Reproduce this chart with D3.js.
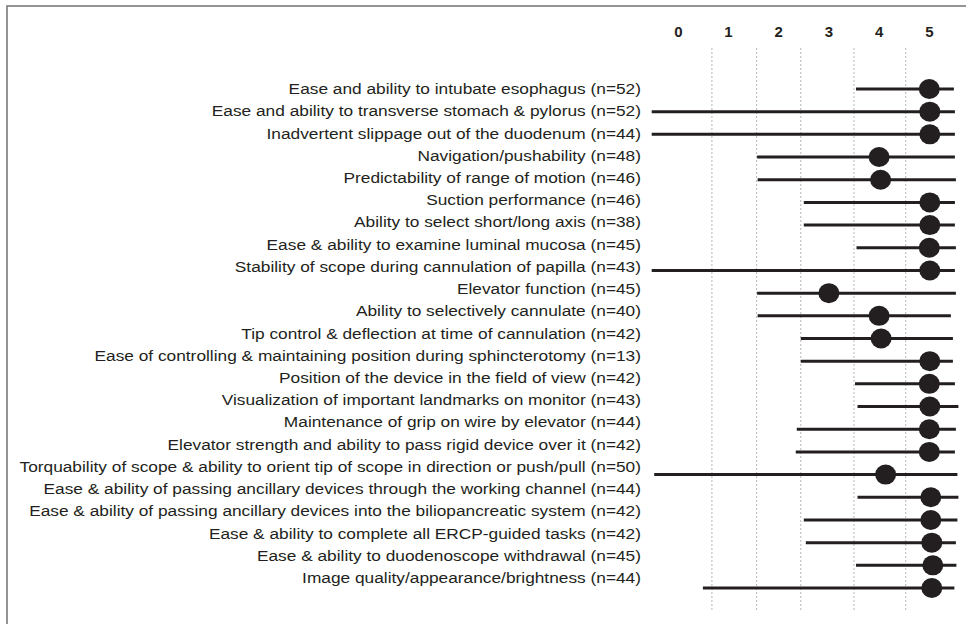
<!DOCTYPE html>
<html>
<head>
<meta charset="utf-8">
<script src="https://cdn.jsdelivr.net/npm/d3@7"></script>
<style>
  body { margin: 0; background: #fff; }
  #grafico { width: 966px; height: 624px; }
  text { font-family: Arial, Helvetica, "Liberation Sans", sans-serif; fill: #231f20; }
</style>
</head>
<body>
<div id="grafico"></div>
<script>
// items rated, top to bottom
var itens = [
  "Ease and ability to intubate esophagus (n=52)",
  "Ease and ability to transverse stomach & pylorus (n=52)",
  "Inadvertent slippage out of the duodenum (n=44)",
  "Navigation/pushability (n=48)",
  "Predictability of range of motion (n=46)",
  "Suction performance (n=46)",
  "Ability to select short/long axis (n=38)",
  "Ease & ability to examine luminal mucosa (n=45)",
  "Stability of scope during cannulation of papilla (n=43)",
  "Elevator function (n=45)",
  "Ability to selectively cannulate (n=40)",
  "Tip control & deflection at time of cannulation (n=42)",
  "Ease of controlling & maintaining position during sphincterotomy (n=13)",
  "Position of the device in the field of view (n=42)",
  "Visualization of important landmarks on monitor (n=43)",
  "Maintenance of grip on wire by elevator (n=44)",
  "Elevator strength and ability to pass rigid device over it (n=42)",
  "Torquability of scope & ability to orient tip of scope in direction or push/pull (n=50)",
  "Ease & ability of passing ancillary devices through the working channel (n=44)",
  "Ease & ability of passing ancillary devices into the biliopancreatic system (n=42)",
  "Ease & ability to complete all ERCP-guided tasks (n=42)",
  "Ease & ability to duodenoscope withdrawal (n=45)",
  "Image quality/appearance/brightness (n=44)"
];

// median score (dot)
var mediana = [5, 5.01, 5.01, 4, 4.03, 5.01, 5.01, 5, 5.01, 3, 4, 4.04,
               5.01, 5, 5.01, 5, 5, 4.13, 5.03, 5.03, 5.05, 5.07, 5.05];

// range bar ends
var minimo = [3.54, -0.53, -0.53, 1.57, 1.58, 2.5, 2.5, 3.55, -0.53, 1.57, 1.58, 2.44,
              2.44, 3.52, 3.57, 2.36, 2.34, -0.48, 3.57, 2.5, 2.54, 3.54, 0.49];
var maximo = [5.49, 5.51, 5.51, 5.51, 5.53, 5.51, 5.51, 5.53, 5.51, 5.53, 5.43, 5.47,
              5.47, 5.51, 5.58, 5.53, 5.51, 5.56, 5.58, 5.56, 5.53, 5.54, 5.5];

// score labels on top and the dotted separators
var ticks = [0, 1, 2, 3, 4, 5];
var separadores = [0.67, 1.56, 2.44, 3.5, 4.53];

var data = itens.map(function(d, i) {
  return { item: d, med: mediana[i], lo: minimo[i], hi: maximo[i] };
});

var svg = d3.select("#grafico").append("svg")
  .attr("width", 966)
  .attr("height", 624);

// frame (only top and left edges show)
svg.append("rect")
  .attr("x", 7)
  .attr("y", 6)
  .attr("width", 1000)
  .attr("height", 700)
  .style("fill", "none")
  .style("stroke", "#7a7a7a")
  .style("stroke-width", 1.6);

// scales
var x = d3.scaleLinear().domain([0, 5]).range([678.3, 929.3]);
var yTexto = d3.scalePoint().domain(itens).range([89, 578]);
var yMarca = d3.scalePoint().domain(itens).range([89, 588]);

// dotted separators
svg.append("g")
  .selectAll("line")
  .data(separadores)
  .enter().append("line")
  .attr("x1", function(d) { return x(d); })
  .attr("x2", function(d) { return x(d); })
  .attr("y1", 48)
  .attr("y2", 611)
  .style("stroke", "#b5b5b5")
  .style("stroke-width", 1)
  .style("stroke-dasharray", "2, 2");

// score labels
svg.append("g")
  .selectAll("text")
  .data(ticks)
  .enter().append("text")
  .attr("x", function(d) { return x(d); })
  .attr("y", 32)
  .attr("dy", "0.35em")
  .style("text-anchor", "middle")
  .style("font-weight", "bold")
  .style("font-size", "15px")
  .text(function(d) { return d; });

// item labels - the original type is a bit stretched sideways,
// so the group gets widened until the longest one spans x 19..641
var gRot = svg.append("g");
var rotulos = gRot.selectAll("text")
  .data(data)
  .enter().append("text")
  .attr("x", 0)
  .attr("y", function(d) { return yTexto(d.item); })
  .attr("dy", "0.35em")
  .style("text-anchor", "end")
  .style("font-size", "14.5px")
  .text(function(d) { return d.item; });

var maior = d3.max(rotulos.nodes(), function(n) { return n.getComputedTextLength(); });
var sx = 622 / maior;
gRot.attr("transform", "translate(641,0) scale(" + sx + ",1)");

// range bars
svg.append("g")
  .selectAll("line")
  .data(data)
  .enter().append("line")
  .attr("x1", function(d) { return x(d.lo); })
  .attr("x2", function(d) { return x(d.hi); })
  .attr("y1", function(d) { return yMarca(d.item); })
  .attr("y2", function(d) { return yMarca(d.item); })
  .style("stroke", "#231f20")
  .style("stroke-width", 3);

// median dots
svg.append("g")
  .selectAll("ellipse")
  .data(data)
  .enter().append("ellipse")
  .attr("cx", function(d) { return x(d.med); })
  .attr("cy", function(d) { return yMarca(d.item); })
  .attr("rx", 10.5)
  .attr("ry", 10)
  .style("fill", "#231f20");
</script>
</body>
</html>
